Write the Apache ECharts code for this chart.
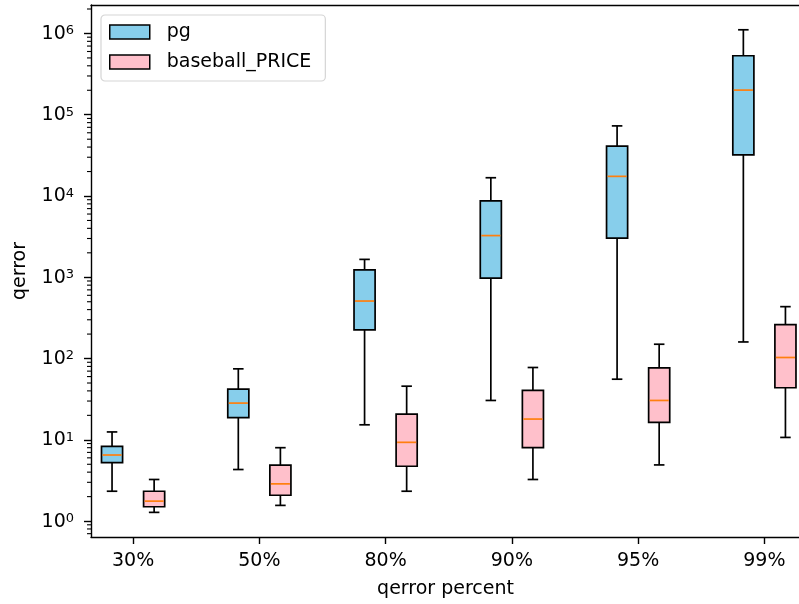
<!DOCTYPE html>
<html>
<head>
<meta charset="utf-8">
<script src="https://cdn.jsdelivr.net/npm/echarts@6/dist/echarts.min.js"></script>
<style>html,body{margin:0;padding:0;background:#fff}#c{width:799px;height:604px}</style>
</head>
<body>
<div id="c"></div>
<script>
// ---- data ----
const categories = ['30%', '50%', '80%', '90%', '95%', '99%'];
// each row: [whisker low, Q1, median, Q3, whisker high]
const pgStats = [
  [2.33, 5.25, 6.5, 8.3, 12.5],
  [4.31, 18.7, 28.3, 42, 74.7],
  [15.3, 225, 510, 1235, 1660],
  [30.5, 977, 3258, 8690, 16780],
  [55.7, 3027, 17450, 41000, 72900],
  [160, 32100, 201000, 532000, 1110000]
];
const baseballStats = [
  [1.28, 1.50, 1.76, 2.33, 3.25],
  [1.56, 2.08, 2.87, 4.87, 8.0],
  [2.33, 4.73, 9.31, 20.7, 45.7],
  [3.25, 8.02, 18.0, 40.5, 77.6],
  [4.91, 16.4, 30.5, 76.9, 150],
  [10.7, 43.7, 103, 261, 435]
];
const majorTicks = [1, 10, 100, 1000, 10000, 100000, 1000000];
const seriesNames = ['pg', 'baseball_PRICE'];

// ---- layout / style ----
const Y_MIN = 0.637, Y_MAX = 2.24e6;
const X_MIN = -1 / 3, X_MAX = 5.282;   // right side of the plot is cut by the image edge
const OFFSET = 1 / 6;      // box offset from category centre (category units)
const BOX_W = 0.167;       // box width (category units)
const FONT = 'DejaVu Sans';
const FS = 19;
const COLORS = ['#87CEEB', '#FFC0CB'];
const MEDIAN = '#FF7F0E';
const AX = { color: '#000', width: 1.4 };

const minorTicks = [];
for (let e = -1; e <= 6; e++) {
  for (let k = 2; k <= 9; k++) {
    const v = k * Math.pow(10, e);
    if (v >= Y_MIN && v <= Y_MAX) minorTicks.push(v);
  }
}

function buildData(stats, off) {
  return stats.map((s, i) => [i + off].concat(s));
}

function makeRender(color) {
  return function (params, api) {
    const x = api.value(0);
    const lo = api.value(1), q1 = api.value(2), med = api.value(3), q3 = api.value(4), hi = api.value(5);
    const hw = BOX_W / 2, cw = BOX_W / 4;
    const pL = api.coord([x - hw, q3]);
    const pR = api.coord([x + hw, q1]);
    const cx = api.coord([x, med])[0];
    const yLo = api.coord([x, lo])[1], yHi = api.coord([x, hi])[1];
    const yQ1 = pR[1], yQ3 = pL[1], yMed = api.coord([x, med])[1];
    const cL = api.coord([x - cw, lo])[0], cR = api.coord([x + cw, lo])[0];
    const line = { stroke: '#000', lineWidth: 1.7 };
    return {
      type: 'group',
      children: [
        { type: 'line', shape: { x1: cx, y1: yQ3, x2: cx, y2: yHi }, style: line },
        { type: 'line', shape: { x1: cx, y1: yQ1, x2: cx, y2: yLo }, style: line },
        { type: 'line', shape: { x1: cL, y1: yHi, x2: cR, y2: yHi }, style: line },
        { type: 'line', shape: { x1: cL, y1: yLo, x2: cR, y2: yLo }, style: line },
        { type: 'rect', shape: { x: pL[0], y: yQ3, width: pR[0] - pL[0], height: yQ1 - yQ3 },
          style: { fill: color, stroke: '#000', lineWidth: 1.7 } },
        { type: 'line', shape: { x1: pL[0] + 1, y1: yMed, x2: pR[0] - 1, y2: yMed },
          style: { stroke: MEDIAN, lineWidth: 1.7 } }
      ]
    };
  };
}

// minor log ticks on the left spine, placed through the y axis scale
function renderMinorTick(params, api) {
  const p = api.coord([X_MIN, api.value(1)]);
  return { type: 'line', shape: { x1: p[0] - 4, y1: p[1], x2: p[0], y2: p[1] },
           style: { stroke: '#000', lineWidth: 1.1 } };
}

const chart = echarts.init(document.getElementById('c'), null, { renderer: 'canvas' });
chart.setOption({
  animation: false,
  backgroundColor: '#fff',
  textStyle: { fontFamily: FONT, color: '#000' },
  grid: { left: 91, top: 5, width: 709, height: 532, containLabel: false, outerBoundsMode: 'none', show: false },
  legend: {
    orient: 'vertical', left: 101, top: 15,
    padding: [6, 14, 8, 8],
    itemWidth: 40, itemHeight: 14, itemGap: 8,
    backgroundColor: '#fff', borderColor: '#d5d5d5', borderWidth: 1.2, borderRadius: 4,
    textStyle: { fontFamily: FONT, fontSize: FS, color: '#000', lineHeight: 22, padding: [0, 0, 0, 12] },
    data: seriesNames.map((n, i) => ({ name: n, icon: 'rect', itemStyle: { color: COLORS[i], borderColor: '#000', borderWidth: 1.5 } }))
  },
  xAxis: [{
    type: 'value', min: X_MIN, max: X_MAX, position: 'bottom',
    name: 'qerror percent', nameLocation: 'middle', nameGap: 42,
    nameTextStyle: { fontFamily: FONT, fontSize: FS, color: '#000', lineHeight: 20 },
    splitLine: { show: false },
    axisLine: { show: true, onZero: false, lineStyle: AX },
    axisTick: { show: true, customValues: [0, 1, 2, 3, 4, 5], length: 7, lineStyle: AX },
    axisLabel: { customValues: [0, 1, 2, 3, 4, 5], formatter: v => categories[Math.round(v)],
      fontFamily: FONT, fontSize: FS, lineHeight: 20, color: '#000', margin: 14 }
  }, {
    type: 'value', min: X_MIN, max: X_MAX, position: 'top',
    splitLine: { show: false },
    axisLine: { show: true, onZero: false, lineStyle: AX },
    axisTick: { show: false }, axisLabel: { show: false }
  }],
  yAxis: {
    type: 'log', logBase: 10, min: Y_MIN, max: Y_MAX,
    name: 'qerror', nameLocation: 'middle', nameGap: 61, nameRotate: 90,
    nameTextStyle: { fontFamily: FONT, fontSize: FS, color: '#000', lineHeight: 20 },
    splitLine: { show: false },
    axisLine: { show: true, onZero: false, lineStyle: AX },
    axisTick: { show: true, customValues: majorTicks, length: 7, lineStyle: AX },
    axisLabel: {
      customValues: majorTicks, margin: 17, padding: [2, 0, 0, 0],
      formatter: v => '{b|10}{s|' + Math.round(Math.log10(v)) + '}',
      rich: {
        b: { fontFamily: FONT, fontSize: FS, color: '#000', lineHeight: 20, verticalAlign: 'top' },
        s: { fontFamily: FONT, fontSize: 13, color: '#000', lineHeight: 14, verticalAlign: 'top' }
      }
    }
  },
  series: [
    { name: seriesNames[0], type: 'custom', renderItem: makeRender(COLORS[0]), data: buildData(pgStats, -OFFSET),
      encode: { x: 0, y: [1, 2, 3, 4, 5] }, itemStyle: { color: COLORS[0] } },
    { name: seriesNames[1], type: 'custom', renderItem: makeRender(COLORS[1]), data: buildData(baseballStats, OFFSET),
      encode: { x: 0, y: [1, 2, 3, 4, 5] }, itemStyle: { color: COLORS[1] } },
    { name: 'minorTicks', type: 'custom', renderItem: renderMinorTick, clip: false, silent: true,
      data: minorTicks.map(v => [X_MIN, v]), encode: { x: 0, y: 1 } }
  ]
});
</script>
</body>
</html>
